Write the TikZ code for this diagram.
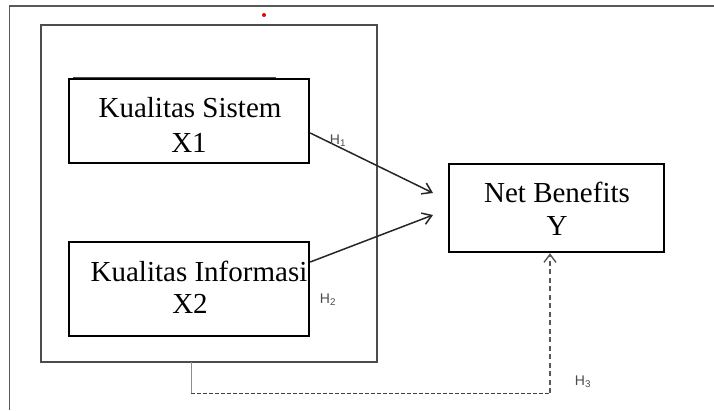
\documentclass[tikz,border=0pt]{standalone}
\usepackage{fontspec}
\setmainfont{Liberation Serif}
\newfontfamily\hfont{Liberation Sans}
\usetikzlibrary{arrows.meta,calc}
\tikzset{
  varbox/.style={draw=black, line width=2.4pt, minimum width=240pt, inner sep=0pt, fill=white},
  boxtext/.style={font=\fontsize{29}{35}\selectfont, inner sep=0pt, anchor=base},
  hlabel/.style={font=\hfont\fontsize{14}{16}\selectfont, text=black!70, inner sep=0pt},
  rel/.style={line width=1.5pt, draw=black!85, -{Straight Barb[length=9pt,width=12pt,line width=1.5pt]}},
  framel/.style={draw=black!65, line width=1.4pt},
}
\begin{document}
\begin{tikzpicture}[x=1pt,y=-1pt]
\useasboundingbox (0,0) rectangle (714,410);
% outer frame (top and left edges)
\draw[framel] (714,6) -- (9.5,6) -- (9.5,410);
% red dot
\fill[red!90!black] (264,15) circle (2pt);
% inner frame
\node[draw=black!70, line width=1.3pt, minimum width=336pt, minimum height=337pt, inner sep=0pt] (frame) at (209,193.5) {};
% thin line above box 1
\draw[black!70, line width=0.8pt] (73,77) -- (276,77);
% boxes
\node[varbox, minimum height=84pt] (b1) at (189,121) {};
\node[varbox, minimum height=94pt] (b2) at (189,289) {};
\node[varbox, minimum width=215pt, minimum height=88pt] (by) at (556.5,208) {};
% texts
\node[boxtext] (t1a) at (190,117) {Kualitas Sistem};
\node[boxtext] (t1b) at (189,152) {X1};
\node[boxtext] (t2a) at (199,281) {Kualitas Informasi};
\node[boxtext] (t2b) at (190,313) {X2};
\node[boxtext] (tya) at (557,202) {Net Benefits};
\node[boxtext] (tyb) at (557,235) {Y};
% arrow end points
\coordinate (e1) at (433,193);
\coordinate (e2) at (433,215);
\draw[rel] ($(b1.east)+(0,12)$) -- (e1);
\draw[rel] ($(b2.east)+(0,-27)$) -- (e2);
% dashed path H3
\coordinate (d0) at (191,362);
\coordinate (d1) at (191,393);
\coordinate (d2) at (550,393);
\draw[black!45, line width=0.8pt] (d0) -- (d1);
\draw[black!75, line width=1pt, dash pattern=on 4pt off 2pt] (d1) -- (d2);
\draw[black!65, line width=2pt, dash pattern=on 5pt off 3.5pt, -{Straight Barb[length=8pt,width=12pt,line width=1.4pt]}] (d2) -- ($(by.south)+(-6.5,0)$);
% hypothesis labels
\node[hlabel] (h1) at (338,141) {H\textsubscript{1}};
\node[hlabel] (h2) at (328,300) {H\textsubscript{2}};
\node[hlabel] (h3) at (583,382) {H\textsubscript{3}};
\end{tikzpicture}
\end{document}
